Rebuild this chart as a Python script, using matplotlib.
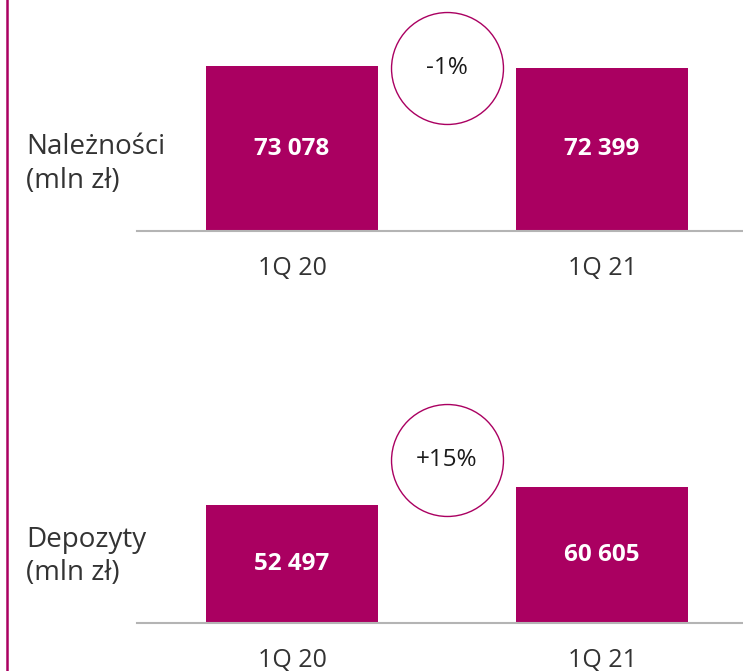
import matplotlib
matplotlib.use("Agg")
import matplotlib.pyplot as plt
from matplotlib.lines import Line2D

plt.rcParams['font.family'] = ['Open Sans', 'DejaVu Sans']

periods = ["1Q 20", "1Q 21"]
loans = [73078, 72399]
deposits = [52497, 60605]
loan_labels = ["73 078", "72 399"]
deposit_labels = ["52 497", "60 605"]
panel_titles = ["Należności\n(mln zł)", "Depozyty\n(mln zł)"]
changes = ["-1%", "+15%"]

BAR = "#AA0061"
BASE = "#B4B4B4"
TXT = "#333333"

W, H = 743, 671
fig = plt.figure(figsize=(W / 100, H / 100), dpi=100)

px_per_unit = 0.002253
ymax = 100000
ax_h = ymax * px_per_unit

left_px = 137
x_scale = 310.0
xlim = (-0.5, -0.5 + (W - left_px) / x_scale)

def make_panel(baseline_px, values, labels, title, change):
    ax = fig.add_axes([left_px / W, 1 - baseline_px / H, (W - left_px) / W, ax_h / H])
    x = list(range(len(values)))
    ax.bar(x, values, width=0.555, color=BAR, zorder=2)
    ax.set_xlim(*xlim)
    ax.set_ylim(0, ymax)
    for s in ["top", "right", "left"]:
        ax.spines[s].set_visible(False)
    ax.spines["bottom"].set_color(BASE)
    ax.spines["bottom"].set_linewidth(1.5)
    ax.set_yticks([])
    ax.set_xticks(x)
    ax.set_xticklabels(periods, fontsize=18, color=TXT)
    ax.tick_params(axis="x", length=0, pad=18)
    for xi, v, lab in zip(x, values, labels):
        ax.text(xi, v / 2, lab, ha="center", va="center", color="white",
                fontsize=17.5, fontweight="bold", zorder=3)
    ax.scatter([0.5], [72300], s=80.6 ** 2, facecolor="white", edgecolor=BAR,
               linewidth=1.0, zorder=4, clip_on=False)
    ax.text(0.5, 72300, change, ha="center", va="center", fontsize=17.5,
            color="#1a1a1a", zorder=5)
    fig.text(26 / W, 1 - (baseline_px - 67) / H, title, ha="left", va="center",
             fontsize=20, color=TXT, linespacing=1.25)
    ax.patch.set_alpha(0)
    return ax

make_panel(231, loans, loan_labels, panel_titles[0], changes[0])
make_panel(623.3, deposits, deposit_labels, panel_titles[1], changes[1])

fig.add_artist(Line2D([7.5 / W, 7.5 / W], [0, 1], transform=fig.transFigure,
                      color=BAR, linewidth=1.8))

fig.savefig("out.png", dpi=100)
